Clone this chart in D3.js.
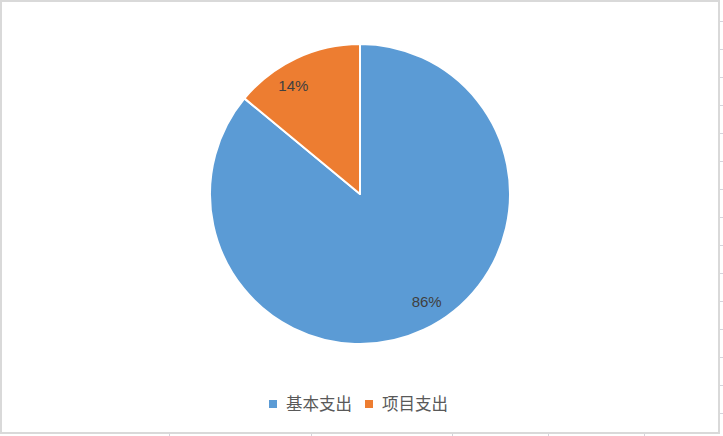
<!DOCTYPE html>
<html>
<head>
<meta charset="utf-8">
<script src="https://cdn.jsdelivr.net/npm/d3@7"></script>
<style>
  html, body { margin: 0; padding: 0; background: #ffffff; }
  svg { display: block; }
</style>
</head>
<body>
<svg id="chart" width="723" height="436"></svg>
<script>
// ---- data ----
const categories = ["基本支出", "项目支出"];
const values = [86, 14];
const colors = ["#5B9BD5", "#ED7D31"];
const gridRowTicks = [21, 49, 77, 105, 133, 161, 189, 217, 245, 273, 301, 329, 357, 385, 413];
const gridColTicks = [169, 311, 452, 548, 644];

const W = 723, H = 436;
const svg = d3.select("#chart");

// spreadsheet gridlines outside the chart frame
const grid = svg.append("g").attr("stroke", "#d4d4dc").attr("stroke-width", 1);
grid.selectAll("line.r").data(gridRowTicks).join("line")
  .attr("x1", 720).attr("x2", 723)
  .attr("y1", d => d + 0.5).attr("y2", d => d + 0.5);
grid.selectAll("line.c").data(gridColTicks).join("line")
  .attr("x1", d => d + 0.5).attr("x2", d => d + 0.5)
  .attr("y1", 434).attr("y2", 436);

// chart frame
svg.append("rect")
  .attr("x", 1).attr("y", 1).attr("width", 718).attr("height", 432)
  .attr("fill", "#ffffff").attr("stroke", "#d9d9d9").attr("stroke-width", 2);

// pie
const cx = 360, cy = 194, R = 150;
const pie = d3.pie().sort(null).value(d => d.v);
const data = categories.map((c, i) => ({ name: c, v: values[i], color: colors[i] }));
const arcs = pie(data);
const total = d3.sum(values);

const arc = d3.arc().innerRadius(0).outerRadius(R);
const g = svg.append("g").attr("transform", `translate(${cx},${cy})`);
g.selectAll("path").data(arcs).join("path")
  .attr("d", arc)
  .attr("fill", d => d.data.color)
  .attr("stroke", "#ffffff")
  .attr("stroke-width", 2)
  .attr("stroke-linejoin", "round");

// data labels (best-fit style, slightly rotated from mid-angle)
const labelR = 127, angOffset = -0.113;
const fmt = d3.format(".0%");
g.selectAll("text.lbl").data(arcs).join("text")
  .attr("class", "lbl")
  .attr("x", d => labelR * Math.sin((d.startAngle + d.endAngle) / 2 + angOffset))
  .attr("y", d => -labelR * Math.cos((d.startAngle + d.endAngle) / 2 + angOffset))
  .attr("dy", "0.36em")
  .attr("text-anchor", "middle")
  .attr("font-family", "Liberation Sans, Arial, sans-serif")
  .attr("font-size", 15)
  .attr("fill", "#404040")
  .text(d => fmt(d.data.v / total));

// legend
const legend = svg.append("g").attr("transform", "translate(269,404)");
const itemX = [0, 96];
const items = legend.selectAll("g").data(data).join("g")
  .attr("transform", (d, i) => `translate(${itemX[i]},0)`);
items.append("rect")
  .attr("x", 0).attr("y", -4).attr("width", 8).attr("height", 8)
  .attr("fill", d => d.color);
items.append("text")
  .attr("x", 17).attr("y", 0).attr("dy", "0.36em")
  .attr("font-family", "Noto Sans CJK SC, sans-serif")
  .attr("font-size", 16.5)
  .attr("fill", "#595959")
  .text(d => d.name);
</script>
</body>
</html>
